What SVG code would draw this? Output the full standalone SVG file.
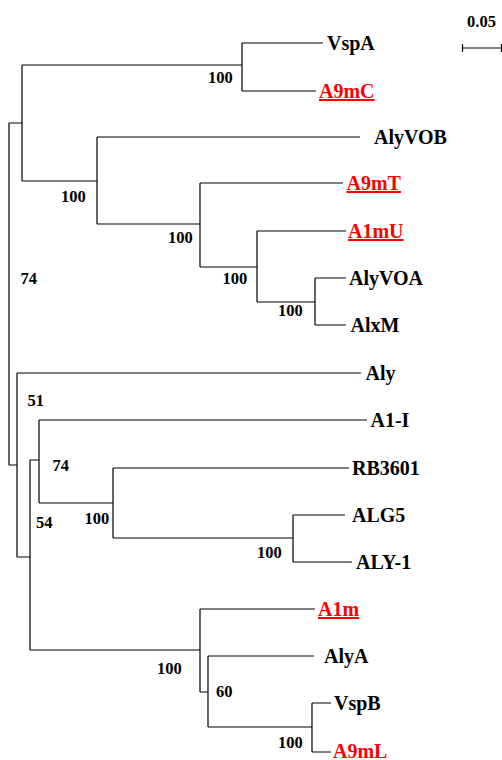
<svg xmlns="http://www.w3.org/2000/svg" width="502" height="760" viewBox="0 0 502 760">
<style>
.br{fill:none;stroke:#000;stroke-width:1.2}
.lb{font-family:"Liberation Serif","Times New Roman",serif;font-weight:bold;font-size:20px;fill:#000}
.red{fill:#ff0000}
.ul{text-decoration:underline}
.bs{font-family:"Liberation Serif","Times New Roman",serif;font-weight:bold;font-size:16.5px;fill:#000}
</style>
<rect width="502" height="760" fill="#fff"/>
<g id="connectors" class="br">
<path d="M9,123V465M9,123H22M9,465H17"/>
<path d="M22,65V181M22,65H242M22,181H97"/>
<path d="M242,43V91M242,43H323M242,91H316"/>
<path d="M97,137V224M97,137H360M97,224H200"/>
<path d="M200,183V267M200,183H343M200,267H257"/>
<path d="M257,231V302M257,231H346M257,302H315"/>
<path d="M315,278V325M315,278H346M315,325H346"/>
<path d="M17,373V557M17,373H361M17,557H30"/>
<path d="M30,460V650M30,460H39M30,650H200"/>
<path d="M39,420V503M39,420H367M39,503H113"/>
<path d="M113,468V538M113,468H349M113,538H293"/>
<path d="M293,515V562M293,515H345M293,562H352"/>
<path d="M200,609V692M200,609H315M200,692H208"/>
<path d="M208,656V727M208,656H314M208,727H312"/>
<path d="M312,703V752M312,703H331M312,752H331"/>
</g>
<g id="VspA"><text class="lb" x="327" y="50">VspA</text></g>
<g id="A9mC"><text class="lb red ul" x="319" y="98">A9mC</text></g>
<g id="AlyVOB"><text class="lb" x="374" y="144">AlyVOB</text></g>
<g id="A9mT"><text class="lb red ul" x="346.5" y="190">A9mT</text></g>
<g id="A1mU"><text class="lb red ul" x="348" y="238">A1mU</text></g>
<g id="AlyVOA"><text class="lb" x="349" y="285">AlyVOA</text></g>
<g id="AlxM"><text class="lb" x="350.5" y="332">AlxM</text></g>
<g id="Aly"><text class="lb" x="365.5" y="380">Aly</text></g>
<g id="A1-I"><text class="lb" x="370.5" y="427">A1-I</text></g>
<g id="RB3601"><text class="lb" x="352" y="475">RB3601</text></g>
<g id="ALG5"><text class="lb" x="352" y="522">ALG5</text></g>
<g id="ALY-1"><text class="lb" x="356" y="569">ALY-1</text></g>
<g id="A1m"><text class="lb red ul" x="318" y="616">A1m</text></g>
<g id="AlyA"><text class="lb" x="324" y="663">AlyA</text></g>
<g id="VspB"><text class="lb" x="334" y="710">VspB</text></g>
<g id="A9mL"><text class="lb red" x="333" y="757.5">A9mL</text></g>
<g id="bootstrap">
<text class="bs" x="208" y="83">100</text>
<text class="bs" x="61" y="202">100</text>
<text class="bs" x="168" y="243">100</text>
<text class="bs" x="222.5" y="284">100</text>
<text class="bs" x="278" y="316">100</text>
<text class="bs" x="20.5" y="284">74</text>
<text class="bs" x="27.5" y="406">51</text>
<text class="bs" x="52.5" y="471">74</text>
<text class="bs" x="36" y="528">54</text>
<text class="bs" x="84.5" y="524">100</text>
<text class="bs" x="257" y="558">100</text>
<text class="bs" x="157" y="674">100</text>
<text class="bs" x="216" y="697">60</text>
<text class="bs" x="278" y="748">100</text>
</g>
<g id="scale">
<text class="bs" x="467" y="27">0.05</text>
<path class="br" d="M462.5,48H501.5M462.5,44V52M501.5,44V52"/>
</g>
</svg>
